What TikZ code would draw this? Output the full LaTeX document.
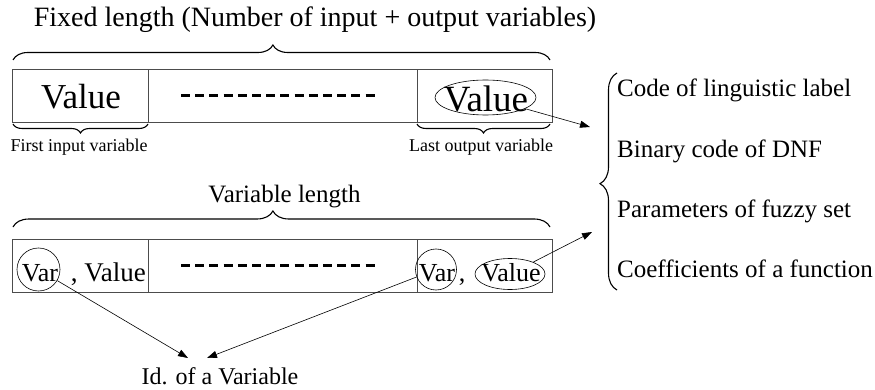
\documentclass[tikz,border=0pt]{standalone}
\usepackage{fontspec}
\setmainfont{Liberation Serif}
\usetikzlibrary{decorations.pathreplacing,shapes.geometric,arrows.meta}
\begin{document}
\begin{tikzpicture}[x=1pt,y=-1pt,
  cell/.style={draw=black!70,line width=0.7pt,minimum height=53pt,inner sep=0pt},
  fs/.style={font=\fontsize{#1}{#1}\selectfont},
  txt/.style={inner sep=0pt},
  ovl/.style={draw,ellipse,inner sep=0pt,line width=0.6pt},
  circ/.style={draw,circle,inner sep=0pt,line width=0.6pt},
  arr/.style={line width=0.6pt,-{Triangle[length=10pt,width=7pt]}},
  br/.style={decorate,line width=1.1pt,decoration={brace,amplitude=#1}},
  mbr/.style={decorate,line width=1.1pt,decoration={brace,mirror,amplitude=#1}},
  dots/.style={line width=3pt,dash pattern=on 9pt off 5.2pt},
]
\useasboundingbox (0,0) rectangle (875,390);

% title and top brace
\node[txt,fs=28,anchor=base] (title) at (315,27) {Fixed length (Number of input + output variables)};
\draw[br=15pt,decoration={aspect=0.484}] (13,60) -- (550,60);

% top row
\node[cell,minimum width=136pt] (c11) at (80,95.5) {};
\node[cell,minimum width=269pt] (c12) at (282.5,95.5) {};
\node[cell,minimum width=135pt] (c13) at (484.5,95.5) {};
\node[txt,fs=35,anchor=base] (v11) at (81,109) {Value};
\draw[dots] (181,96) -- (378,96);
\node[ovl,minimum width=101pt,minimum height=35pt] (e13) at (485.5,97.5) {};
\node[txt,fs=37,anchor=base] (v13) at (486,112) {Value};

% small braces
\draw[mbr=9pt] (13,124) -- (148,124);
\draw[mbr=9pt] (417,124) -- (550,124);
\node[txt,fs=18,anchor=base] (first) at (79,152) {First input variable};
\node[txt,fs=18,anchor=base] (last) at (481,152) {Last output variable};

% variable length
\node[txt,fs=25,anchor=base] (vlen) at (284.5,203) {Variable length};
\draw[br=16pt,decoration={aspect=0.484}] (13,227) -- (550,227);

% bottom row
\node[cell,minimum width=136pt] (c21) at (80,266) {};
\node[cell,minimum width=269pt] (c22) at (282.5,266) {};
\node[cell,minimum width=135pt] (c23) at (484.5,266) {};
\node[circ,minimum size=43pt] (var1) at (38.5,269.5) {};
\node[txt,fs=26,anchor=base] (var1t) at (40,281) {Var};
\node[txt,fs=27,anchor=base east] (val1) at (146,281) {, Value};
\draw[dots] (181,265) -- (378,265);
\node[circ,minimum size=41pt] (var2) at (436,269.5) {};
\node[txt,fs=26,anchor=base] (var2t) at (437,281) {Var};
\node[txt,fs=26,anchor=base] (comma) at (462,281) {,};
\node[ovl,minimum width=70pt,minimum height=31pt] (e23) at (510,274) {};
\node[txt,fs=26,anchor=base] (v23) at (511,281) {Value};

% right list
\draw[br=17pt,decoration={aspect=0.49}] (617,290) -- (617,73);
\node[txt,fs=25,anchor=base west] (l1) at (617,97) {Code of linguistic label};
\node[txt,fs=25,anchor=base west] (l2) at (617,158) {Binary code of DNF};
\node[txt,fs=25,anchor=base west] (l3) at (617,218) {Parameters of fuzzy set};
\node[txt,fs=25,anchor=base west] (l4) at (617,277) {Coefficients of a function};

% id
\node[txt,fs=24,anchor=base] (id) at (220,384) {Id. of a Variable};
\coordinate (t1) at (188,358);
\coordinate (t2) at (207,358);
\coordinate (r1) at (590,127);
\coordinate (r2) at (592,232);

% arrows
\draw[arr] (e13) -- (r1);
\draw[arr] (e23) -- (r2);
\draw[arr] (var1) -- (t1);
\draw[arr] (var2) -- (t2);
\end{tikzpicture}
\end{document}
